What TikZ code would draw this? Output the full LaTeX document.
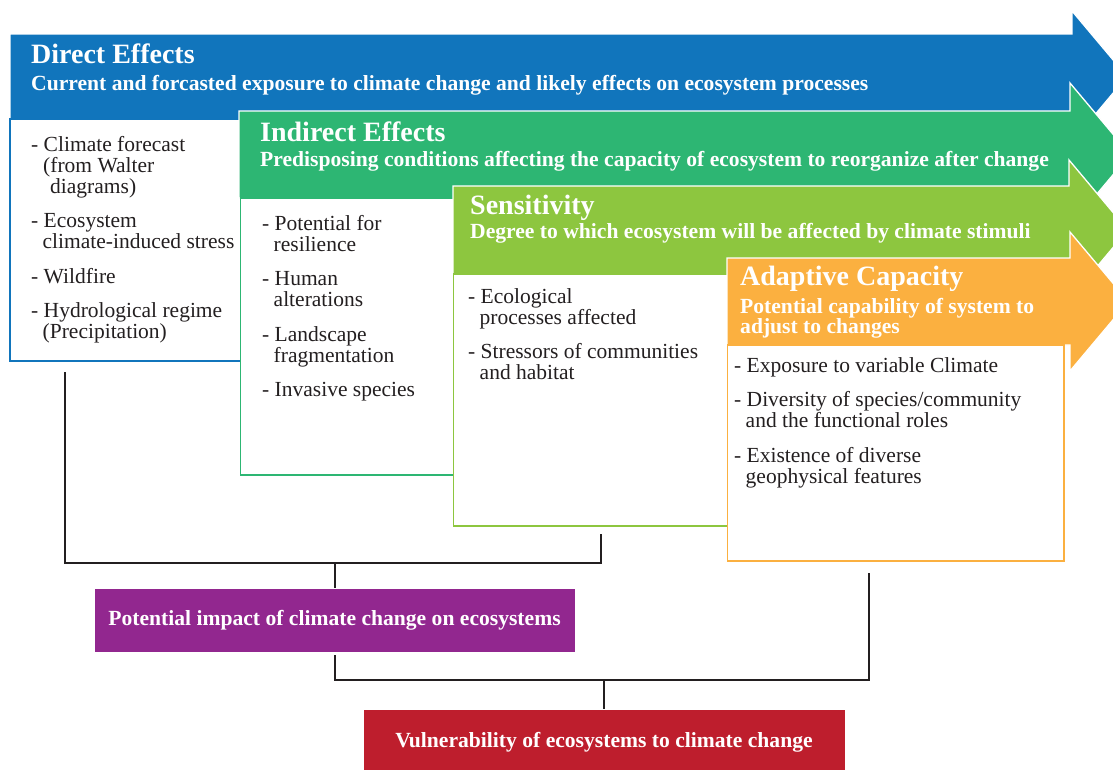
\documentclass[tikz,border=0pt]{standalone}
\usepackage{fontspec}
\setmainfont{Liberation Serif}
\definecolor{cBlue}{HTML}{1175BC}
\definecolor{cGreen}{HTML}{2DB673}
\definecolor{cLgreen}{HTML}{8DC63F}
\definecolor{cOrange}{HTML}{FBB040}
\definecolor{cPurple}{HTML}{92278F}
\definecolor{cRed}{HTML}{BE1E2D}
\definecolor{cInk}{HTML}{231F20}
\newcommand{\itemlines}[1]{\vtop{\baselineskip=21pt\lineskiplimit=-50pt\lineskip=0pt #1}}
\newcommand{\tline}[1]{\hbox{#1}}
\newcommand{\tcont}[1]{\hbox{\hskip11.5pt #1}}
\newcommand{\tgap}{\vskip13.5pt}
\newcommand{\flowarrow}[6]{%
  \pgfmathsetmacro{\amid}{(#3+#4)/2}%
  \pgfmathsetmacro{\ahtop}{\amid-#6}%
  \pgfmathsetmacro{\ahbot}{\amid+#6}%
  \pgfmathsetmacro{\atip}{#5+#6*0.84}%
  \path[arrowshape, fill=#1] (#2,#3) -- (#5,#3) -- (#5,\ahtop) -- (\atip,\amid) -- (#5,\ahbot) -- (#5,#4) -- (#2,#4) -- cycle;%
}
\tikzset{
  arrowshape/.style={draw=white, line width=1.3pt, line join=miter},
  listbox/.style={fill=white, line width=1.8pt, anchor=north west, inner sep=0pt, outer sep=0pt},
  ttl/.style={anchor=base west, inner sep=0pt, text=white, font=\fontsize{28}{30}\selectfont\bfseries},
  sub/.style={anchor=base west, inner sep=0pt, text=white, font=\fontsize{21.6}{20}\selectfont\bfseries},
  body/.style={anchor=base west, inner sep=0pt, text=cInk, font=\fontsize{21.5}{21}\selectfont},
  resbox/.style={inner sep=0pt, text=white, draw=white, line width=0.8pt, font=\fontsize{21.6}{24}\selectfont\bfseries},
  conn/.style={line width=2pt, draw=cInk}
}
\begin{document}
\begin{tikzpicture}[x=1pt,y=-1pt]
\useasboundingbox (0,0) rectangle (1113,769);
\clip (0,0) rectangle (1113,769);
\fill[white] (0,0) rectangle (1113,769);

% Direct effects
\flowarrow{cBlue}{10}{34}{119}{1072}{65.5}
\node[listbox, draw=cBlue, minimum width=235pt, minimum height=242pt] (dbox) at (10,119) {};
\node[ttl] (dttl) at (31,63) {Direct Effects};
\node[sub] (dsub) at (31,90) {Current and forcasted exposure to climate change and likely effects on ecosystem processes};
\node[body] (dlist) at (31,151) {\itemlines{\tline{- Climate forecast}\tline{\hskip12pt(from Walter}\tline{\hskip19pt diagrams)}\tgap\tline{- Ecosystem}\tcont{climate-induced stress}\tgap\tline{- Wildfire}\tgap\tline{- Hydrological regime}\tcont{(Precipitation)}}};

% Indirect effects
\flowarrow{cGreen}{239}{111}{198}{1070}{71.5}
\node[listbox, draw=cGreen, minimum width=219.5pt, minimum height=277pt] (ibox) at (240.5,198) {};
\node[ttl] (ittl) at (260,141) {Indirect Effects};
\node[sub] (isub) at (260,166) {Predisposing conditions affecting the capacity of ecosystem to reorganize after change};
\node[body] (ilist) at (262,230) {\itemlines{\tline{- Potential for}\tcont{resilience}\tgap\tline{- Human}\tcont{alterations}\tgap\tline{- Landscape}\tcont{fragmentation}\tgap\tline{- Invasive species}}};

% Sensitivity
\flowarrow{cLgreen}{453}{186}{274}{1069}{70}
\node[listbox, draw=cLgreen, minimum width=281.5pt, minimum height=252pt] (sbox) at (453.5,274) {};
\node[ttl] (sttl) at (470,214) {Sensitivity};
\node[sub] (ssub) at (470,238) {Degree to which ecosystem will be affected by climate stimuli};
\node[body] (slist) at (468,303) {\itemlines{\tline{- Ecological}\tcont{processes affected}\tgap\tline{- Stressors of communities}\tcont{and habitat}}};

% Adaptive capacity
\flowarrow{cOrange}{727}{258}{345}{1070}{69.5}
\node[listbox, draw=cOrange, minimum width=336.5pt, minimum height=216pt] (abox) at (727.5,345) {};
\node[ttl] (attl) at (740,285) {Adaptive Capacity};
\node[sub] (asub) at (740,313) {\vtop{\baselineskip=20pt\lineskiplimit=-50pt\hbox{Potential capability of system to}\hbox{adjust to changes}}};
\node[body] (alist) at (734,372) {\itemlines{\tline{- Exposure to variable Climate}\tgap\tline{- Diversity of species/community}\tcont{and the functional roles}\tgap\tline{- Existence of diverse}\tcont{geophysical features}}};

% Results
\node[resbox, fill=cPurple, minimum width=481pt, minimum height=64pt] (impact) at (334.5,620) {Potential impact of climate change on ecosystems};
\node[resbox, fill=cRed, minimum width=482pt, minimum height=66pt] (vuln) at (604,742) {Vulnerability of ecosystems to climate change};

% Connectors
\coordinate (a1) at (65,372);
\coordinate (a2) at (601,534);
\coordinate (j1) at (334.5,563);
\coordinate (a3) at (869,573);
\coordinate (j2) at (604,680);
\draw[conn] (a1) |- (j1) -| (a2);
\draw[conn] (j1) -- (impact.north);
\draw[conn] ([yshift=-3pt]impact.south) |- (j2) -| (a3);
\draw[conn] (j2) -- (vuln.north);
\end{tikzpicture}
\end{document}
